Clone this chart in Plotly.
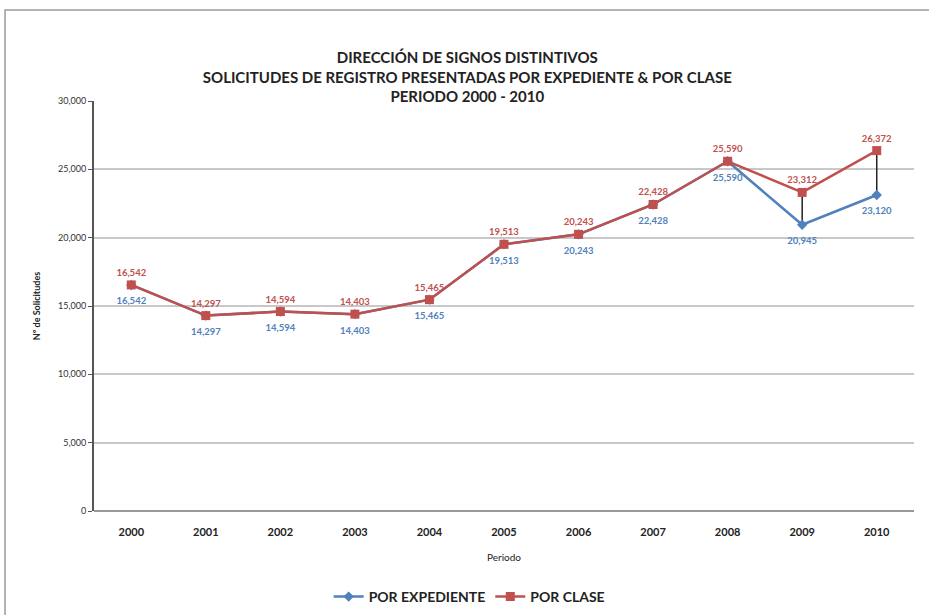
import plotly.graph_objects as go

years = ["2000", "2001", "2002", "2003", "2004", "2005", "2006", "2007", "2008", "2009", "2010"]
por_expediente = [16542, 14297, 14594, 14403, 15465, 19513, 20243, 22428, 25590, 20945, 23120]
por_clase = [16542, 14297, 14594, 14403, 15465, 19513, 20243, 22428, 25590, 23312, 26372]

BLUE = "#4F81BD"
RED = "#C0504D"
FONT = "Lato, Liberation Sans, Arial"

# high-low connecting lines between the two series
hl_x, hl_y = [], []
for yr, a, b in zip(years, por_expediente, por_clase):
    hl_x += [yr, yr, None]
    hl_y += [a, b, None]

fig = go.Figure()
fig.add_trace(go.Scatter(x=hl_x, y=hl_y, mode="lines", line=dict(color="#222222", width=1.5),
                         showlegend=False, hoverinfo="skip"))
fig.add_trace(go.Scatter(
    x=years, y=por_expediente, name="<b>POR EXPEDIENTE</b>", mode="lines+markers",
    line=dict(color=BLUE, width=2.5), marker=dict(symbol="diamond", size=8, color=BLUE)))
# blue data labels (placed a little further below the points)
fig.add_trace(go.Scatter(
    x=years, y=por_expediente, mode="markers+text", showlegend=False, hoverinfo="skip",
    marker=dict(size=18, opacity=0),
    text=[f"<b>{v:,}</b>" for v in por_expediente], textposition="bottom center",
    textfont=dict(color=BLUE, size=9.5, family=FONT)))
fig.add_trace(go.Scatter(
    x=years, y=por_clase, name="<b>POR CLASE</b>", mode="lines+markers+text",
    line=dict(color=RED, width=2.5), marker=dict(symbol="square", size=9, color=RED),
    text=[f"<b>{v:,}</b>" for v in por_clase], textposition="top center",
    textfont=dict(color=RED, size=9.5, family=FONT)))

fig.update_layout(
    width=929, height=615,
    margin=dict(l=94, r=15, t=101, b=104),
    paper_bgcolor="white", plot_bgcolor="white",
    font=dict(family=FONT, color="#222222"),
    title=dict(text="<b>DIRECCIÓN DE SIGNOS DISTINTIVOS<br>SOLICITUDES DE REGISTRO PRESENTADAS POR EXPEDIENTE &amp; POR CLASE<br>PERIODO 2000 - 2010</b>",
               x=0.503, xanchor="center", y=0.897, yanchor="middle",
               font=dict(size=15, family=FONT, color="#222222")),
    xaxis=dict(type="category", title=dict(text="Periodo", font=dict(size=10), standoff=16),
               tickfont=dict(size=11), showgrid=False, showline=False, ticks="",
               ticklabelstandoff=13,
               tickprefix="<b>", ticksuffix="</b>",
               range=[-0.5, 10.5]),
    yaxis=dict(range=[0, 30000], dtick=5000, tickformat=",", tickfont=dict(size=9, color="#333333"),
               title=dict(text="<b>Nº de Solicitudes</b>", font=dict(size=9), standoff=16),
               showgrid=True, gridcolor="#C8C8C8", gridwidth=2,
               showline=True, linecolor="#555555", linewidth=2, zeroline=True,
               zerolinecolor="#999999", zerolinewidth=2, ticks="outside", ticklen=4, tickcolor="#555555"),
    legend=dict(orientation="h", xref="container", yref="container", x=0.505, xanchor="center",
                y=1 - 597 / 615, yanchor="middle",
                font=dict(size=14, family=FONT), traceorder="normal"),
    shapes=[dict(type="rect", xref="paper", yref="paper", x0=-0.1085, x1=1.03, y0=-0.27, y1=1.222,
                 line=dict(color="#9a9a9a", width=1.5), fillcolor="rgba(0,0,0,0)", layer="below")],
)

fig.write_html("out.html", config={"displayModeBar": False},
               post_script="document.body.style.margin='0';")
